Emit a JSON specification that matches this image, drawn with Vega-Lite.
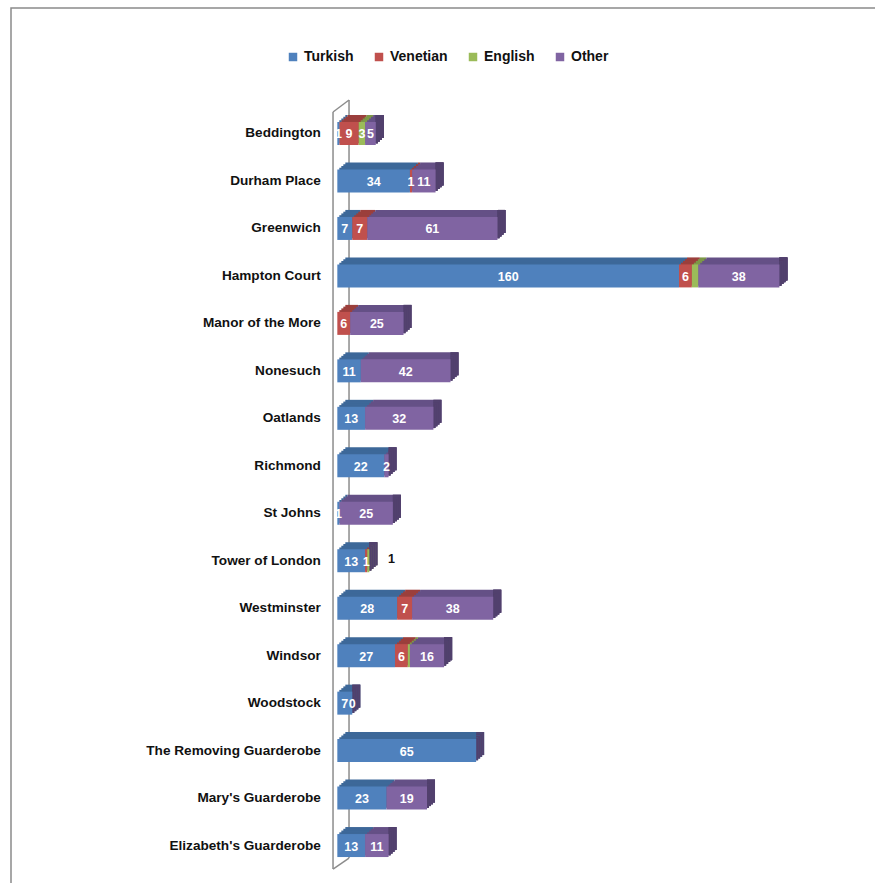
{
  "$schema": "https://vega.github.io/schema/vega-lite/v6.json",
  "autosize": "none",
  "width": 866,
  "height": 877,
  "padding": {"left": 11, "top": 8, "right": 0, "bottom": 0},
  "background": "white",
  "config": {
    "view": {"stroke": "#8a8a8a", "strokeWidth": 1.5},
    "font": "Liberation Sans",
    "axisX": {"disable": true},
    "axisY": {
      "domain": false,
      "ticks": false,
      "grid": false,
      "offset": -326.3,
      "labelPadding": 17,
      "labelFont": "Liberation Sans",
      "labelFontWeight": "bold",
      "labelFontSize": 13.6,
      "labelColor": "#111111"
    }
  },
  "layer": [
    {
      "data": {"values": [{}]},
      "layer": [
        {
          "mark": {"type": "rule", "color": "#8c8c8c", "strokeWidth": 1.5, "xOffset": -4.3, "yOffset": -21.5, "y2Offset": 23.5},
          "encoding": {
            "x": {"datum": 0, "type": "quantitative", "scale": {"domain": [-152.8, 252.7], "nice": false, "zero": false}},
            "y": {"datum": "Beddington", "type": "nominal", "title": null},
            "y2": {"datum": "Elizabeth's Guarderobe"}
          }
        },
        {
          "mark": {"type": "rule", "color": "#8c8c8c", "strokeWidth": 1.5, "xOffset": 11.7, "yOffset": -33.5, "y2Offset": 12.5},
          "encoding": {
            "x": {"datum": 0, "type": "quantitative"},
            "y": {"datum": "Beddington", "type": "nominal", "title": null},
            "y2": {"datum": "Elizabeth's Guarderobe"}
          }
        },
        {
          "mark": {"type": "rule", "color": "#8c8c8c", "strokeWidth": 1.5, "xOffset": -4.3, "x2Offset": 11.7, "yOffset": -21.5, "y2Offset": -33.5},
          "encoding": {
            "x": {"datum": 0, "type": "quantitative"},
            "x2": {"datum": 0},
            "y": {"datum": "Beddington", "type": "nominal", "title": null},
            "y2": {"datum": "Beddington"}
          }
        },
        {
          "mark": {"type": "rule", "color": "#8c8c8c", "strokeWidth": 1.5, "xOffset": -4.3, "x2Offset": 11.7, "yOffset": 23.5, "y2Offset": 12.5},
          "encoding": {
            "x": {"datum": 0, "type": "quantitative"},
            "x2": {"datum": 0},
            "y": {"datum": "Elizabeth's Guarderobe", "type": "nominal", "title": null},
            "y2": {"datum": "Elizabeth's Guarderobe"}
          }
        }
      ]
    },
    {
      "data": {
        "values": [
          {"name": "Beddington", "series": "Turkish", "value": 1, "label": "1"},
          {"name": "Beddington", "series": "Venetian", "value": 9, "label": "9"},
          {"name": "Beddington", "series": "English", "value": 3, "label": "3"},
          {"name": "Beddington", "series": "Other", "value": 5, "label": "5"},
          {"name": "Durham Place", "series": "Turkish", "value": 34, "label": "34"},
          {"name": "Durham Place", "series": "Venetian", "value": 1, "label": "1"},
          {"name": "Durham Place", "series": "Other", "value": 11, "label": "11"},
          {"name": "Greenwich", "series": "Turkish", "value": 7, "label": "7"},
          {"name": "Greenwich", "series": "Venetian", "value": 7, "label": "7"},
          {"name": "Greenwich", "series": "Other", "value": 61, "label": "61"},
          {"name": "Hampton Court", "series": "Turkish", "value": 160, "label": "160"},
          {"name": "Hampton Court", "series": "Venetian", "value": 6, "label": "6"},
          {"name": "Hampton Court", "series": "English", "value": 3, "label": ""},
          {"name": "Hampton Court", "series": "Other", "value": 38, "label": "38"},
          {"name": "Manor of the More", "series": "Venetian", "value": 6, "label": "6"},
          {"name": "Manor of the More", "series": "Other", "value": 25, "label": "25"},
          {"name": "Nonesuch", "series": "Turkish", "value": 11, "label": "11"},
          {"name": "Nonesuch", "series": "Other", "value": 42, "label": "42"},
          {"name": "Oatlands", "series": "Turkish", "value": 13, "label": "13"},
          {"name": "Oatlands", "series": "Other", "value": 32, "label": "32"},
          {"name": "Richmond", "series": "Turkish", "value": 22, "label": "22"},
          {"name": "Richmond", "series": "Other", "value": 2, "label": "2"},
          {"name": "St Johns", "series": "Turkish", "value": 1, "label": "1"},
          {"name": "St Johns", "series": "Other", "value": 25, "label": "25"},
          {"name": "Tower of London", "series": "Turkish", "value": 13, "label": "13"},
          {"name": "Tower of London", "series": "Venetian", "value": 1, "label": "1"},
          {"name": "Tower of London", "series": "English", "value": 1, "label": "1"},
          {"name": "Westminster", "series": "Turkish", "value": 28, "label": "28"},
          {"name": "Westminster", "series": "Venetian", "value": 7, "label": "7"},
          {"name": "Westminster", "series": "Other", "value": 38, "label": "38"},
          {"name": "Windsor", "series": "Turkish", "value": 27, "label": "27"},
          {"name": "Windsor", "series": "Venetian", "value": 6, "label": "6"},
          {"name": "Windsor", "series": "English", "value": 1, "label": ""},
          {"name": "Windsor", "series": "Other", "value": 16, "label": "16"},
          {"name": "Woodstock", "series": "Turkish", "value": 7, "label": "7"},
          {"name": "Woodstock", "series": "Other", "value": 0, "label": "0"},
          {"name": "The Removing Guarderobe", "series": "Turkish", "value": 65, "label": "65"},
          {"name": "Mary's Guarderobe", "series": "Turkish", "value": 23, "label": "23"},
          {"name": "Mary's Guarderobe", "series": "Other", "value": 19, "label": "19"},
          {"name": "Elizabeth's Guarderobe", "series": "Turkish", "value": 13, "label": "13"},
          {"name": "Elizabeth's Guarderobe", "series": "Other", "value": 11, "label": "11"}
        ]
      },
      "transform": [
        {"calculate": "indexof(['Turkish','Venetian','English','Other'], datum.series)", "as": "order"},
        {"stack": "value", "groupby": ["name"], "sort": [{"field": "order", "order": "ascending"}], "as": ["x0", "x1"]},
        {"calculate": "(datum.x0 + datum.x1) / 2", "as": "mid"},
        {"joinaggregate": [{"op": "sum", "field": "value", "as": "total"}], "groupby": ["name"]}
      ],
      "encoding": {
        "y": {
          "field": "name",
          "type": "nominal",
          "title": null,
          "scale": {
            "domain": ["Beddington", "Durham Place", "Greenwich", "Hampton Court", "Manor of the More", "Nonesuch", "Oatlands", "Richmond", "St Johns", "Tower of London", "Westminster", "Windsor", "Woodstock", "The Removing Guarderobe", "Mary's Guarderobe", "Elizabeth's Guarderobe"],
            "range": [114, 849.05],
            "paddingInner": 0.5155,
            "paddingOuter": 0
          }
        }
      },
      "resolve": {"scale": {"color": "independent"}},
      "layer": [
        {
          "mark": {"type": "bar", "xOffset": 8, "x2Offset": 8, "yOffset": -7, "y2Offset": -7},
          "encoding": {
            "x": {"field": "x0", "type": "quantitative"},
            "x2": {"field": "x1"},
            "color": {"field": "series", "type": "nominal", "scale": {"domain": ["Turkish", "Venetian", "English", "Other"], "range": ["#3d6899", "#9b3f3c", "#7c9747", "#655086"]}, "legend": null}
          }
        },
        {
          "mark": {"type": "bar", "color": "#51406d", "x2Offset": 8, "yOffset": -7, "y2Offset": -7},
          "encoding": {"x": {"field": "total", "type": "quantitative"}, "x2": {"field": "total"}}
        },
        {
          "mark": {"type": "bar", "xOffset": 6, "x2Offset": 6, "yOffset": -5.25, "y2Offset": -5.25},
          "encoding": {
            "x": {"field": "x0", "type": "quantitative"},
            "x2": {"field": "x1"},
            "color": {"field": "series", "type": "nominal", "scale": {"domain": ["Turkish", "Venetian", "English", "Other"], "range": ["#3d6899", "#9b3f3c", "#7c9747", "#655086"]}, "legend": null}
          }
        },
        {
          "mark": {"type": "bar", "color": "#51406d", "x2Offset": 6, "yOffset": -5.25, "y2Offset": -5.25},
          "encoding": {"x": {"field": "total", "type": "quantitative"}, "x2": {"field": "total"}}
        },
        {
          "mark": {"type": "bar", "xOffset": 4, "x2Offset": 4, "yOffset": -3.5, "y2Offset": -3.5},
          "encoding": {
            "x": {"field": "x0", "type": "quantitative"},
            "x2": {"field": "x1"},
            "color": {"field": "series", "type": "nominal", "scale": {"domain": ["Turkish", "Venetian", "English", "Other"], "range": ["#3d6899", "#9b3f3c", "#7c9747", "#655086"]}, "legend": null}
          }
        },
        {
          "mark": {"type": "bar", "color": "#51406d", "x2Offset": 4, "yOffset": -3.5, "y2Offset": -3.5},
          "encoding": {"x": {"field": "total", "type": "quantitative"}, "x2": {"field": "total"}}
        },
        {
          "mark": {"type": "bar", "xOffset": 2, "x2Offset": 2, "yOffset": -1.75, "y2Offset": -1.75},
          "encoding": {
            "x": {"field": "x0", "type": "quantitative"},
            "x2": {"field": "x1"},
            "color": {"field": "series", "type": "nominal", "scale": {"domain": ["Turkish", "Venetian", "English", "Other"], "range": ["#3d6899", "#9b3f3c", "#7c9747", "#655086"]}, "legend": null}
          }
        },
        {
          "mark": {"type": "bar", "color": "#51406d", "x2Offset": 2, "yOffset": -1.75, "y2Offset": -1.75},
          "encoding": {"x": {"field": "total", "type": "quantitative"}, "x2": {"field": "total"}}
        },
        {
          "mark": {"type": "bar"},
          "encoding": {
            "x": {"field": "x0", "type": "quantitative"},
            "x2": {"field": "x1"},
            "color": {
              "field": "series",
              "type": "nominal",
              "scale": {"domain": ["Turkish", "Venetian", "English", "Other"], "range": ["#4f81bd", "#c0504d", "#9bbb59", "#8064a2"]},
              "legend": {
                "title": null,
                "orient": "none",
                "legendX": 275,
                "legendY": 42,
                "direction": "horizontal",
                "columns": 4,
                "padding": 0,
                "symbolType": "square",
                "symbolSize": 72,
                "symbolStrokeWidth": 0,
                "labelFont": "Liberation Sans",
                "labelFontWeight": "bold",
                "labelFontSize": 14,
                "labelColor": "#111111",
                "labelOffset": 4,
                "columnPadding": 18
              }
            }
          }
        },
        {
          "transform": [{"filter": "datum.label != '' && !(datum.name == 'Tower of London' && datum.series == 'English')"}],
          "mark": {"type": "text", "color": "white", "font": "Liberation Sans", "fontWeight": "bold", "fontSize": 12.5, "align": "center", "baseline": "middle", "dy": 1},
          "encoding": {
            "x": {"field": "mid", "type": "quantitative"},
            "text": {"field": "label"}
          }
        },
        {
          "transform": [{"filter": "datum.name == 'Tower of London' && datum.series == 'English'"}],
          "mark": {"type": "text", "color": "#111111", "font": "Liberation Sans", "fontWeight": "bold", "fontSize": 12.5, "align": "center", "baseline": "middle", "dx": 22, "dy": -2},
          "encoding": {
            "x": {"field": "x1", "type": "quantitative"},
            "text": {"field": "label"}
          }
        }
      ]
    }
  ]
}
